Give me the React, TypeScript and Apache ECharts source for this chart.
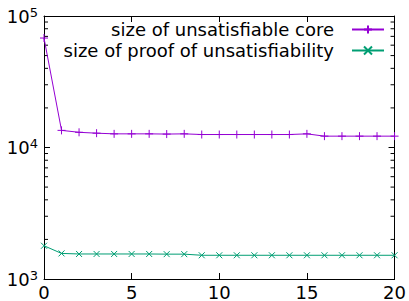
import React, { useEffect, useRef } from "react";
import * as echarts from "echarts";

const xValues = [0, 1, 2, 3, 4, 5, 6, 7, 8, 9, 10, 11, 12, 13, 14, 15, 16, 17, 18, 19, 20];
const coreSizes = [68000, 13500, 13050, 12850, 12700, 12700, 12700, 12650, 12700, 12550, 12550, 12550, 12550, 12550, 12550, 12700, 12200, 12200, 12200, 12200, 12200];
const proofSizes = [1790, 1565, 1550, 1550, 1550, 1550, 1550, 1545, 1545, 1515, 1515, 1515, 1515, 1515, 1515, 1515, 1515, 1515, 1515, 1515, 1515];
const seriesNames = ["size of unsatisfiable core", "size of proof of unsatisfiability"];
const minorTickValues = [2000, 3000, 4000, 5000, 6000, 7000, 8000, 9000, 20000, 30000, 40000, 50000, 60000, 70000, 80000, 90000];

const FONT = "'DejaVu Sans'";
const plusPath = "path://M0,5L10,5M5,0L5,10";
const crossPath = "path://M0,0L10,10M10,0L0,10";

export default function App() {
  const ref = useRef<HTMLDivElement>(null);
  useEffect(() => {
    if (!ref.current) return;
    const chart = echarts.init(ref.current, null, { renderer: "svg" });
    const axisLine = { show: true, onZero: false, lineStyle: { color: "#000", width: 1 } };
    chart.setOption({
      animation: false,
      backgroundColor: "#fff",
      textStyle: { fontFamily: FONT },
      grid: { left: 44, right: 11, top: 16, bottom: 21, containLabel: false },
      legend: {
        data: seriesNames,
        orient: "vertical",
        align: "right",
        right: 24,
        top: 19,
        padding: 0,
        itemWidth: 32,
        itemHeight: 10,
        itemGap: 0,
        textStyle: { fontFamily: FONT, fontSize: 18, color: "#000", lineHeight: 16, padding: [5, 13, 0, 0] },
      },
      xAxis: [
        {
          type: "value",
          min: 0,
          max: 20,
          interval: 5,
          axisLine,
          axisTick: { show: true, inside: true, length: 6, lineStyle: { color: "#000" } },
          axisLabel: { fontFamily: FONT, fontSize: 18, color: "#000", margin: 4 },
          splitLine: { show: false },
        },
        {
          type: "value",
          position: "top",
          min: 0,
          max: 20,
          interval: 5,
          axisLine,
          axisTick: { show: true, inside: true, length: 6, lineStyle: { color: "#000" } },
          axisLabel: { show: false },
          splitLine: { show: false },
        },
      ],
      yAxis: [
        {
          type: "log",
          logBase: 10,
          min: 1000,
          max: 100000,
          axisLine,
          axisTick: { show: true, inside: true, length: 6, lineStyle: { color: "#000" } },
          axisLabel: {
            color: "#000",
            margin: 6,
            formatter: (v: number) => "{b|10}{s|" + Math.round(Math.log10(v)) + "}",
            rich: {
              b: { fontFamily: FONT, fontSize: 18, color: "#000" },
              s: { fontFamily: FONT, fontSize: 13, color: "#000", verticalAlign: "top", padding: [0, 0, 8, 0] },
            },
          },
          splitLine: { show: false },
        },
        {
          type: "log",
          logBase: 10,
          min: 1000,
          max: 100000,
          position: "right",
          axisLine,
          axisTick: { show: true, inside: true, length: 6, lineStyle: { color: "#000" } },
          axisLabel: { show: false },
          splitLine: { show: false },
        },
      ],
      series: [
        {
          name: seriesNames[0],
          type: "line",
          data: xValues.map((x, i) => [x, coreSizes[i]]),
          color: "#9400d3",
          symbol: plusPath,
          symbolSize: 8,
          showAllSymbol: true,
          lineStyle: { width: 1, color: "#9400d3" },
          itemStyle: { color: "#9400d3", borderColor: "#9400d3", borderWidth: 1 },
        },
        {
          name: seriesNames[1],
          type: "line",
          data: xValues.map((x, i) => [x, proofSizes[i]]),
          color: "#009e73",
          symbol: crossPath,
          symbolSize: 6,
          showAllSymbol: true,
          lineStyle: { width: 1, color: "#009e73" },
          itemStyle: { color: "#009e73", borderColor: "#009e73", borderWidth: 1 },
        },
        {
          type: "custom",
          silent: true,
          clip: false,
          data: minorTickValues.map((v) => [0, v]),
          encode: { x: 0, y: 1 },
          renderItem: (params: any, api: any) => {
            const v = api.value(1);
            const pL = api.coord([0, v]);
            const pR = api.coord([20, v]);
            const st = { stroke: "#000", lineWidth: 1 };
            return {
              type: "group",
              children: [
                { type: "line", shape: { x1: pL[0], y1: pL[1], x2: pL[0] + 4, y2: pL[1] }, style: st },
                { type: "line", shape: { x1: pR[0], y1: pR[1], x2: pR[0] - 4, y2: pR[1] }, style: st },
              ],
            };
          },
        },
      ],
    });
    return () => chart.dispose();
  }, []);
  return <div ref={ref} style={{ width: 409, height: 301, position: "absolute", left: 0, top: 0 }} />;
}
